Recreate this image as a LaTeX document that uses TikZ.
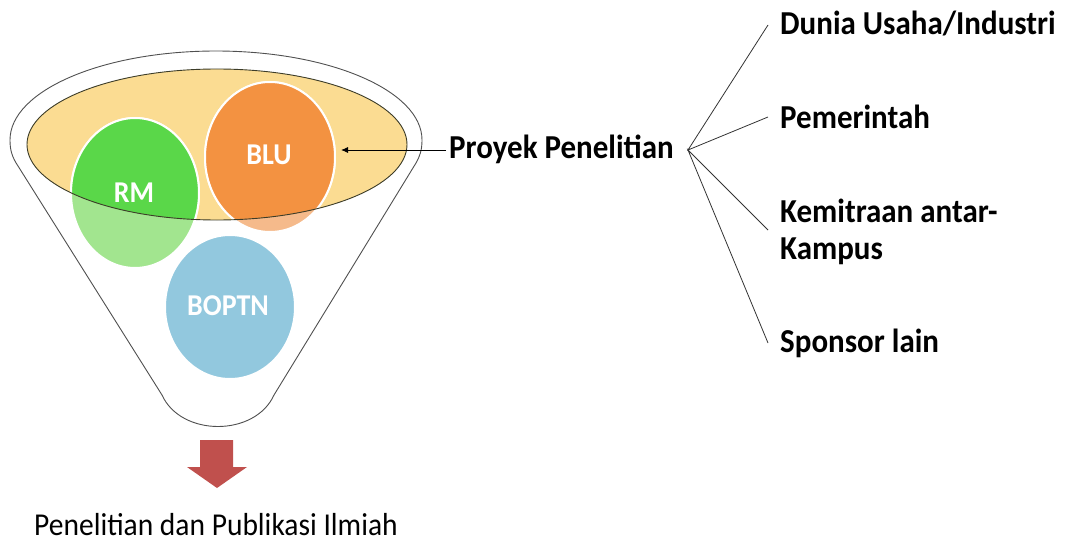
\documentclass[tikz,border=0pt]{standalone}
\usepackage{fontspec}
\setmainfont{Carlito}
\usetikzlibrary{arrows.meta}
\definecolor{rimline}{HTML}{505050}
\definecolor{yellowfill}{HTML}{FBDC92}
\definecolor{yellowline}{HTML}{3C3C28}
\definecolor{rmdark}{HTML}{5AD749}
\definecolor{rmlight}{HTML}{A2E58F}
\definecolor{bludark}{HTML}{F39241}
\definecolor{blulight}{HTML}{F5BA8B}
\definecolor{bluecirc}{HTML}{92C8DE}
\definecolor{redarrow}{HTML}{C0504D}
\newcommand{\talltext}[1]{\scalebox{1}[1.08]{#1}}
\tikzset{
  circlabel/.style={text=white, font=\bfseries\fontsize{28}{32}\selectfont, inner sep=0pt},
  srclabel/.style={anchor=base west, font=\bfseries\fontsize{31}{37}\selectfont, inner sep=0pt},
  spoke/.style={draw=black!80, line width=0.8pt},
  circborder/.style={draw=white, line width=2pt}
}
\begin{document}
\begin{tikzpicture}[x=1pt,y=-1pt]
\useasboundingbox (0,0) rectangle (1071,543);
% funnel outline
\draw[rimline, line width=0.9pt, fill=white]
  (10,140) .. controls (10,90.8) and (102.2,51) .. (216,51)
  .. controls (329.8,51) and (422,90.8) .. (422,140)
  .. controls (422,150) and (420,156) .. (416,163)
  -- (274,395) .. controls (255,437) and (181,437) .. (162,395)
  -- (18,166) .. controls (12,157) and (10,150) .. (10,140) -- cycle;
% yellow ellipse
\fill[yellowfill] (217,144.5) ellipse [x radius=190, y radius=75.5];
% light circles
\filldraw[fill=rmlight, circborder] (135,193) ellipse [x radius=64, y radius=75];
\filldraw[fill=blulight, circborder] (270,157) ellipse [x radius=65, y radius=75];
\filldraw[fill=bluecirc, circborder] (230,307) ellipse [x radius=65, y radius=72];
% dark parts inside yellow ellipse
\begin{scope}
  \clip (217,144.5) ellipse [x radius=190, y radius=75.5];
  \filldraw[fill=rmdark, circborder] (135,193) ellipse [x radius=64, y radius=75];
  \filldraw[fill=bludark, circborder] (270,157) ellipse [x radius=65, y radius=75];
\end{scope}
\draw[yellowline, line width=0.9pt] (217,144.5) ellipse [x radius=190, y radius=75.5];
% circle labels
\node[circlabel] (rm) at (134,193) {\talltext{RM}};
\node[circlabel] (blu) at (269,155) {\talltext{BLU}};
\node[circlabel] (boptn) at (228,306) {\talltext{BOPTN}};
% project label and arrow
\node[srclabel] (proyek) at (449,158) {\talltext{Proyek Penelitian}};
\coordinate (arrtip) at (341,150);
\draw[-{Latex[length=7pt,width=6pt]}, line width=0.9pt] (proyek.west |- 0,150) ++(-3,0) -- (arrtip);
% sources
\node[srclabel] (dunia) at (780,35) {\talltext{Dunia Usaha/Industri}};
\node[srclabel] (pemerintah) at (780,128) {\talltext{Pemerintah}};
\node[srclabel] (kemitraan) at (780,222) {\talltext{Kemitraan antar-}};
\node[srclabel] (kampus) at (780,259) {\talltext{Kampus}};
\node[srclabel] (sponsor) at (780,352) {\talltext{Sponsor lain}};
\coordinate (hub) at (688,150);
\coordinate (e1) at (768,25);
\coordinate (e2) at (768,117);
\coordinate (e3) at (768,230);
\coordinate (e4) at (768,343);
\draw[spoke] (e1) -- (hub) -- (e2);
\draw[spoke] (e3) -- (hub) -- (e4);
% red down arrow
\fill[redarrow] (200,440) -- (233,440) -- (233,467) -- (247,467) -- (217,488) -- (187,467) -- (200,467) -- cycle;
\node[font=\fontsize{29.5}{34}\selectfont, inner sep=0pt, anchor=base] (result) at (216,535) {\talltext{Penelitian dan Publikasi Ilmiah}};
\end{tikzpicture}
\end{document}
